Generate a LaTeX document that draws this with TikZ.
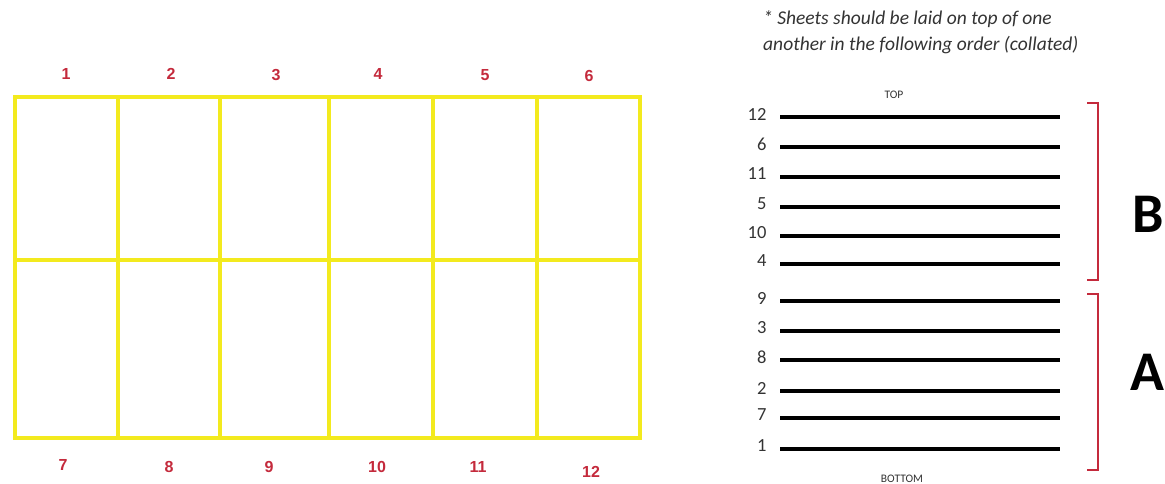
\documentclass[tikz,border=0pt]{standalone}
\usepackage{fontspec}
\setmainfont{Carlito}
\newfontfamily\arialfont{Liberation Sans}
\usetikzlibrary{positioning}
\definecolor{sheetyellow}{HTML}{F3EA1E}
\definecolor{markred}{HTML}{C42A3C}
\definecolor{notegray}{HTML}{333333}

\begin{document}
\begin{tikzpicture}[x=1pt, y=-1pt,
    cell/.style={draw=sheetyellow, line width=3.5pt},
    panel/.style={font=\arialfont\bfseries\fontsize{16}{16}\selectfont, text=markred},
    sheet/.style={line width=3.5pt, black},
    sheetnum/.style={font=\fontsize{18.5}{18.5}\selectfont, text=notegray, anchor=east},
    edge/.style={font=\fontsize{11.5}{11.5}\selectfont, text=notegray},
    brace/.style={draw=markred, line width=2.5pt},
    group/.style={font=\bfseries\fontsize{56}{56}\selectfont, anchor=west}]
  \useasboundingbox (0,0) rectangle (1165,484);

  %% Sheet layout (2 x 6 grid)
  \draw[cell] (15,97) rectangle (640,438);
  \draw[cell] (15,260) -- (640,260);
  \foreach \x in {118,220,329,433,537}
    \draw[cell] (\x,97) -- (\x,438);

  %% Panel numbers, top row
  \node[panel] (p1) at ( 66,74) {1};
  \node[panel] (p2) at (171,74) {2};
  \node[panel] (p3) at (276,75) {3};
  \node[panel] (p4) at (378,74) {4};
  \node[panel] (p5) at (485,75) {5};
  \node[panel] (p6) at (589,76) {6};

  %% Panel numbers, bottom row
  \node[panel] (p7)  at ( 63,465) {7};
  \node[panel] (p8)  at (169,467) {8};
  \node[panel] (p9)  at (269,467) {9};
  \node[panel] (p10) at (377,467) {10};
  \node[panel] (p11) at (478,467) {11};
  \node[panel] (p12) at (591,472) {12};

  %% Collating note
  \node[font=\itshape\fontsize{19.5}{26}\selectfont, text=notegray,
        anchor=north west, align=left, inner sep=0pt] (note) at (763,10)
    {* Sheets should be laid on top of one\\
     another in the following order (collated)};

  %% Stack of sheets
  \node[edge] (top) at (894,95) {TOP};
  \foreach \n/\y in {12/117, 6/147, 11/177, 5/207, 10/236, 4/264,
                     9/301, 3/331, 8/360, 2/391, 7/418, 1/449} {
    \node[sheetnum] (s\n) at (770,\y-3) {\n};
    \draw[sheet] (780,\y) -- (1060,\y);
  }
  \node[edge] (bottom) at (902,479) {BOTTOM};

  %% Groups
  \draw[brace] (1087,103) -- (1098,103) -- (1098,280) -- (1087,280);
  \draw[brace] (1087,294) -- (1098,294) -- (1098,470) -- (1087,470);
  \node[group] (grpB) at (1129,214) {B};
  \node[group] (grpA) at (1127,372) {A};
\end{tikzpicture}
\end{document}
